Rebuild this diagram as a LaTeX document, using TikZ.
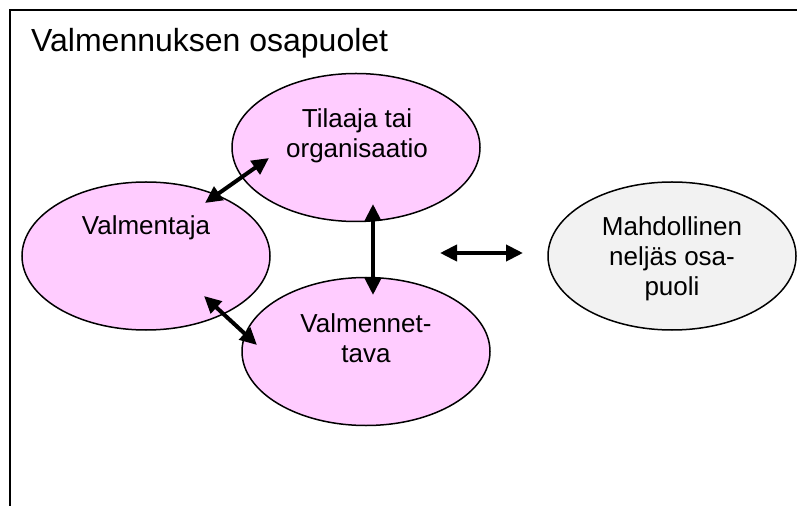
\documentclass[tikz,border=0pt]{standalone}
\usepackage{fontspec}
\setmainfont{Liberation Sans}
\usetikzlibrary{arrows.meta,shapes.geometric}
\definecolor{partypink}{HTML}{FFCCFF}
\definecolor{partygray}{HTML}{F2F2F2}
\begin{document}
\begin{tikzpicture}[x=1bp,y=-1bp,
  party/.style={ellipse, draw=black, line width=1.5bp,
    minimum width=248bp, minimum height=148bp, inner sep=0pt},
  partytext/.style={font=\fontsize{26bp}{30bp}\selectfont,
    align=center, anchor=base, inner sep=0pt},
  link/.style={arrows={Triangle[length=17bp,width=16bp]-Triangle[length=17bp,width=16bp]},
    line width=4bp}
]
\useasboundingbox (0,0) rectangle (797,506);
\fill[white] (0,0) rectangle (797,506);

% frame
\draw[line width=2bp] (797,10) -- (10,10) -- (10,506);

% title
\node[anchor=base west, inner sep=0pt, font=\fontsize{32bp}{36bp}\selectfont]
  (title) at (31,52) {Valmennuksen osapuolet};

% parties
\node[party, fill=partypink] (tilaaja) at (356,147.5) {};
\node[party, fill=partypink] (valmentaja) at (146,256) {};
\node[party, fill=partypink] (valmennettava) at (366,351.5) {};
\node[party, fill=partygray] (neljas) at (672,256) {};

% labels, placed by the baseline of their last line
\node[partytext] (tilaajatxt) at (357,158) {Tilaaja tai\\organisaatio};
\node[partytext] (valmentajatxt) at (146,235) {Valmentaja};
\node[partytext] (valmennettavatxt) at (366,362) {Valmennet-\\tava};
\node[partytext] (neljastxt) at (672,296) {Mahdollinen\\neljäs osa-\\puoli};

% connector ends
\coordinate (a1) at (205,203);
\coordinate (b1) at (269,158);
\coordinate (a2) at (204,296);
\coordinate (b2) at (257,345);
\coordinate (a3) at (373,204);
\coordinate (b3) at (373,295);
\coordinate (a4) at (440,253);
\coordinate (b4) at (523,253);

\draw[link] (a1) -- (b1);
\draw[link] (a2) -- (b2);
\draw[link] (a3) -- (b3);
\draw[link] (a4) -- (b4);
\end{tikzpicture}
\end{document}
